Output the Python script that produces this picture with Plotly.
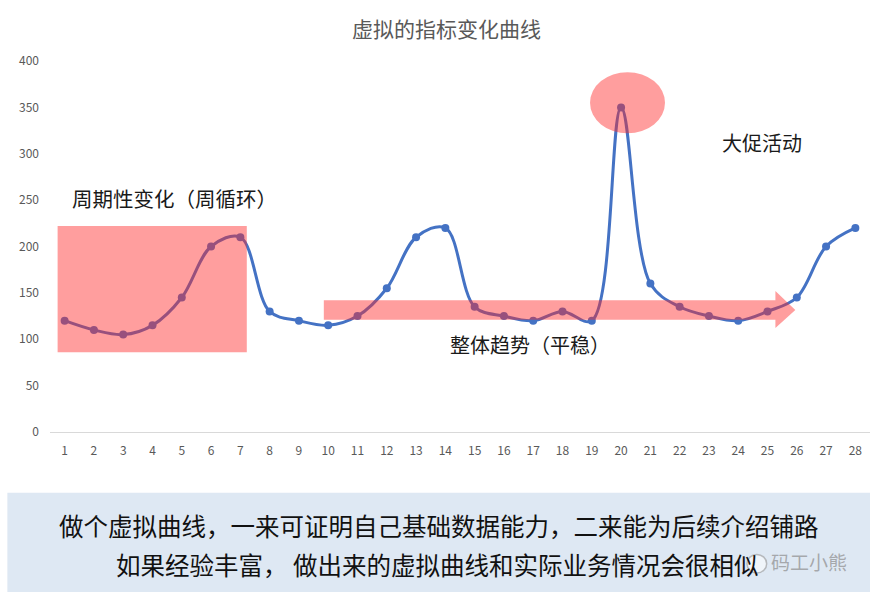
import plotly.graph_objects as go

days = list(range(1, 29))
values = [120, 110, 105, 115, 145, 200, 210, 130, 120, 115, 125, 155, 210, 220,
          135, 125, 120, 130, 120, 350, 160, 135, 125, 120, 130, 145, 200, 220]
tick_labels = [str(d) for d in days]

title_text = "虚拟的指标变化曲线"
note_cycle = "周期性变化（周循环）"
note_trend = "整体趋势（平稳）"
note_promo = "大促活动"
footer_lines = ["做个虚拟曲线，一来可证明自己基础数据能力，二来能为后续介绍铺路",
                "如果经验丰富， 做出来的虚拟曲线和实际业务情况会很相似"]
watermark = "码工小熊"

FONT = "Noto Sans CJK SC, Microsoft YaHei, sans-serif"
BLUE = "#4472C4"
PINK = "rgba(255,40,40,0.45)"

fig = go.Figure()
fig.add_trace(go.Scatter(
    x=days, y=values, mode="lines+markers",
    line=dict(color=BLUE, width=3, shape="spline", smoothing=1.0),
    marker=dict(color=BLUE, size=8),
    hoverinfo="x+y", showlegend=False,
))

shapes = []
# cycle rectangle
shapes.append(dict(type="rect", xref="x", yref="y", x0=0.76, x1=7.22, y0=86, y1=222,
                   fillcolor=PINK, line=dict(width=0), layer="above"))
# trend arrow (shaft + head)
shapes.append(dict(type="path", xref="x", yref="y",
                   path="M 9.85 121 L 25.27 121 L 25.27 112 L 25.95 131.5 L 25.27 152 L 25.27 142 L 9.85 142 Z",
                   fillcolor=PINK, line=dict(width=0), layer="above"))
# promo ellipse
shapes.append(dict(type="circle", xref="x", yref="y", x0=18.94, x1=21.5, y0=322, y1=388,
                   fillcolor=PINK, line=dict(width=0), layer="above"))
# footer box
shapes.append(dict(type="rect", xref="paper", yref="paper", x0=-0.052, x1=1.0,
                   y0=-0.431, y1=-0.164, fillcolor="#DEE8F3", line=dict(width=0)))
# watermark icon
shapes.append(dict(type="circle", xref="paper", yref="paper", x0=0.85, x1=0.874,
                   y0=-0.38, y1=-0.33, fillcolor="rgba(255,255,255,0.55)",
                   line=dict(color="rgba(150,150,150,0.6)", width=1.5), layer="above"))

annotations = [
    dict(x=4.76, y=252, xref="x", yref="y", text=note_cycle, showarrow=False,
         font=dict(family=FONT, size=20.5, color="#1a1a1a")),
    dict(x=16.9, y=94, xref="x", yref="y", text=note_trend, showarrow=False,
         font=dict(family=FONT, size=20, color="#1a1a1a")),
    dict(x=24.8, y=312, xref="x", yref="y", text=note_promo, showarrow=False,
         font=dict(family=FONT, size=20, color="#1a1a1a")),
    dict(x=0.474, y=-0.253, xref="paper", yref="paper", text=footer_lines[0], showarrow=False,
         xanchor="center", yanchor="middle",
         font=dict(family=FONT, size=24.5, color="#111111")),
    dict(x=0.473, y=-0.358, xref="paper", yref="paper", text=footer_lines[1], showarrow=False,
         xanchor="center", yanchor="middle",
         font=dict(family=FONT, size=24.5, color="#111111")),
    dict(x=0.926, y=-0.35, xref="paper", yref="paper", text=watermark, showarrow=False,
         xanchor="center", yanchor="middle",
         font=dict(family=FONT, size=19, color="rgba(140,140,140,0.7)")),
]

fig.update_layout(
    width=879, height=601,
    margin=dict(l=50, r=9, t=61, b=169),
    paper_bgcolor="white", plot_bgcolor="white",
    title=dict(text=title_text, x=0.508, xanchor="center", y=0.95, yanchor="middle",
               font=dict(family=FONT, size=21, color="#595959")),
    xaxis=dict(range=[0.5, 28.5], tickmode="array", tickvals=days, ticktext=tick_labels,
               showgrid=False, zeroline=False, showline=True, linecolor="#D9D9D9", linewidth=1,
               ticks="", ticklabelstandoff=8,
               tickfont=dict(family=FONT, size=12, color="#595959"), fixedrange=True),
    yaxis=dict(range=[0, 400], tickmode="array", tickvals=list(range(0, 401, 50)),
               showgrid=False, zeroline=False, showline=False, ticks="", ticklabelstandoff=10,
               tickfont=dict(family=FONT, size=12, color="#595959"), fixedrange=True),
    shapes=shapes, annotations=annotations,
    font=dict(family=FONT),
)

fig.write_html("out.html")
